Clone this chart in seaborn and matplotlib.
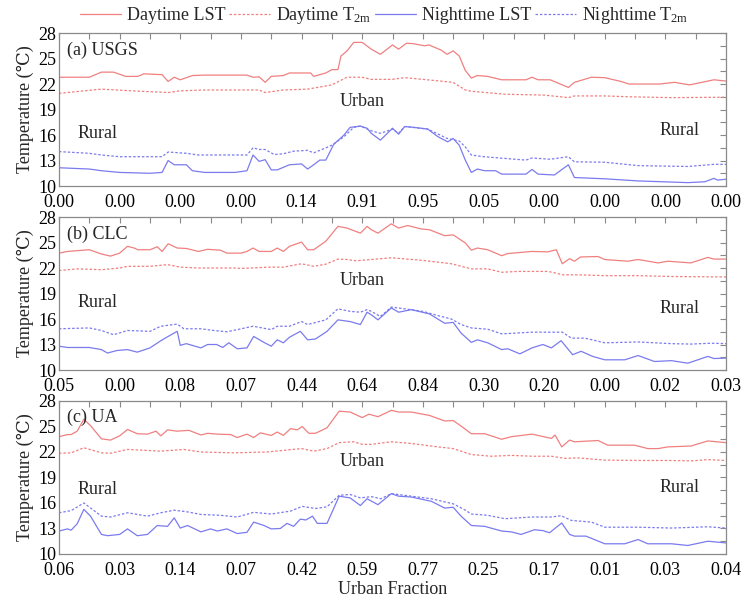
import matplotlib
matplotlib.use("Agg")
import matplotlib.pyplot as plt
import seaborn as sns
from matplotlib.lines import Line2D

sns.set_theme(style="white")
plt.rcParams['font.family'] = ['Liberation Serif', 'DejaVu Serif']
plt.rcParams['mathtext.fontset'] = 'custom'
plt.rcParams['mathtext.rm'] = 'Liberation Serif'
plt.rcParams['mathtext.it'] = 'Liberation Serif'

# ---------------- data ----------------
panel_names = ["(a) USGS", "(b) CLC", "(c) UA"]
tick_pos = [0, 10, 20, 30, 40, 50, 60, 70, 80, 90, 100, 110]
a_ticks = ["0.00", "0.00", "0.00", "0.00", "0.14", "0.91", "0.95", "0.05", "0.00", "0.00", "0.00", "0.00"]
b_ticks = ["0.05", "0.00", "0.08", "0.07", "0.44", "0.64", "0.84", "0.30", "0.20", "0.00", "0.02", "0.03"]
c_ticks = ["0.06", "0.03", "0.14", "0.07", "0.42", "0.59", "0.77", "0.25", "0.17", "0.01", "0.03", "0.04"]

# Panel (a) USGS
a_dlst_x = [0, 5, 7, 9, 11, 13, 14, 17, 18, 19, 20, 22, 24, 31, 32, 33, 34, 35, 37, 38, 40, 41.5, 42, 44, 45, 46, 46.5, 47.5, 48.6, 50,
            51.5, 53, 55, 56, 57.3, 58.4, 60.3, 61, 63, 64, 65, 66, 67, 68, 69, 70.7, 73, 77, 78, 79, 81, 84, 85, 87.8, 90, 92.7, 94, 99, 101.5, 104, 108, 110]
a_dlst_y = [22.8, 22.8, 23.4, 23.4, 22.9, 22.9, 23.2, 23.1, 22.3, 22.8, 22.5, 23.0, 23.05, 23.05, 22.8, 22.85, 22.2, 22.9, 23.0, 23.3, 23.3, 23.3, 22.9, 23.3, 23.7, 23.7, 25.3, 25.9, 26.9, 26.9,
            26.1, 25.5, 26.6, 26.1, 26.8, 26.75, 26.5, 26.6, 26.0, 25.5, 25.9, 25.3, 23.6, 22.7, 23.0, 22.9, 22.5, 22.5, 22.8, 22.5, 22.5, 21.6, 22.2, 22.8, 22.75, 22.3, 22.0, 22.0, 22.2, 21.9, 22.5, 22.35]
a_dt2_x = [0, 7, 12, 18, 20, 24, 33, 34, 37, 41, 45, 47.5, 50, 51.5, 55, 57, 60, 65, 67, 68, 73.5, 80, 84, 85, 90, 94, 101, 110]
a_dt2_y = [20.9, 21.4, 21.2, 21.0, 21.2, 21.3, 21.3, 21.0, 21.3, 21.4, 21.9, 22.8, 22.8, 22.55, 22.55, 22.75, 22.55, 22.2, 21.3, 21.15, 20.8, 20.7, 20.4, 20.6, 20.6, 20.5, 20.4, 20.45]
a_nlst_x = [0, 5, 7, 10, 15, 17, 18, 19, 21, 22, 24, 29, 31, 32, 33, 34, 35, 36, 38, 40, 41, 42, 43, 44, 45.3, 47, 48, 49.7, 50.8,
            51.5, 53, 55, 56, 57, 58.6, 60.8, 62.5, 64.1, 65, 66, 67, 68, 69, 70.2, 72, 73, 77, 78, 79, 81.7, 84, 85, 90, 95.5, 103.7, 106.5, 108, 108.6, 110]
a_nlst_y = [12.15, 12.0, 11.8, 11.6, 11.5, 11.6, 13.0, 12.5, 12.5, 11.8, 11.6, 11.6, 11.8, 13.65, 12.9, 13.1, 11.9, 11.9, 12.5, 12.6, 12.0, 12.5, 13.05, 13.05, 14.9, 16.0, 16.9, 17.05, 16.8,
            16.2, 15.4, 16.8, 16.1, 17.0, 16.9, 16.7, 15.8, 15.2, 15.6, 14.8, 13.05, 11.6, 12.0, 11.8, 11.8, 11.4, 11.4, 11.95, 11.4, 11.3, 12.5, 11.0, 10.85, 10.6, 10.4, 10.5, 10.9, 10.7, 10.8]
a_nt2_x = [0, 5, 7, 10, 17, 18, 20, 21, 23, 31, 32, 33, 34, 35.5, 37, 38.7, 41, 42, 43.7, 45, 47, 48.6, 49.7,
           51.5, 53, 55, 56, 57, 60.8, 64, 66, 67, 68, 70, 73.5, 77, 78, 81, 84, 85, 90, 95.5, 103.7, 108, 110]
a_nt2_y = [14.05, 13.85, 13.65, 13.45, 13.45, 14.0, 13.9, 13.85, 13.65, 13.65, 14.5, 14.3, 14.3, 13.7, 13.8, 14.1, 14.2, 13.9, 14.4, 14.8, 15.8, 16.9, 17.05,
           16.5, 16.2, 16.7, 16.2, 17.0, 16.7, 15.6, 15.3, 14.6, 13.65, 13.45, 13.25, 13.05, 13.3, 13.15, 13.45, 12.85, 12.8, 12.4, 12.3, 12.55, 12.55]

# Panel (b) CLC
b_dlst_x = [0, 1.4, 5, 7, 8.5, 10, 11.3, 12.4, 13, 15, 16.2, 17, 18, 19.5, 21, 23, 24.5, 26.6, 27.7, 30, 31, 32, 33, 35, 36, 37, 38, 40, 41, 42, 44, 46, 47.5, 49.7, 50.8,
            51.5, 52.6, 54.8, 56, 57.5, 59.7, 61.1, 63.6, 65, 67, 68, 69, 70.7, 73, 74, 78, 80.6, 82, 83, 84.2, 85, 86, 88.9, 90, 93.8, 95.5, 98.8, 100.4, 104.2, 107, 108, 110]
b_dlst_y = [23.75, 23.95, 24.15, 23.65, 23.4, 23.75, 24.55, 24.35, 24.15, 24.15, 24.5, 23.95, 24.85, 24.35, 24.3, 23.95, 24.2, 24.1, 23.75, 23.75, 23.95, 24.35, 23.95, 23.95, 24.35, 23.95, 24.55, 25.05, 24.15, 24.15, 25.15, 26.9, 26.7, 26.1, 26.9,
            26.5, 26.1, 27.2, 26.7, 27.0, 26.6, 26.5, 25.8, 25.9, 24.95, 24.1, 24.35, 24.15, 23.45, 23.7, 23.95, 23.9, 24.15, 22.5, 23.1, 22.8, 23.3, 23.35, 23.0, 22.8, 23.0, 22.6, 22.8, 22.6, 23.25, 23.05, 23.05]
b_dt2_x = [0, 3, 7, 10, 11.3, 15, 17.9, 20, 23, 28.8, 30, 34.5, 37, 40, 42, 44, 46, 47.5, 49, 51.5,
           54.8, 60, 64.7, 68, 70.7, 73, 75.7, 80.6, 82, 83, 85.6, 90, 95.5, 101, 110]
b_dt2_y = [21.7, 21.9, 21.8, 22.0, 22.2, 22.2, 22.4, 22.1, 22.0, 22.0, 21.95, 22.1, 22.1, 22.5, 22.2, 22.45, 23.05, 23.0, 22.85, 23.0,
           23.2, 22.9, 22.5, 21.9, 21.9, 21.5, 21.6, 21.6, 21.4, 21.2, 21.2, 21.1, 21.1, 21.0, 20.95]
b_nlst_x = [0, 1.4, 5, 7, 8, 9.6, 11.3, 12.9, 15, 16.8, 18, 19.5, 20, 21, 23.4, 24.5, 26, 27, 28, 29.4, 31, 32.1, 33.8, 35, 36, 37, 38, 39.8, 41, 42.3, 44.2, 46, 48, 49.7, 50.8,
            51.5, 52.6, 54.8, 56, 58.1, 61.1, 63.6, 65, 66.3, 68, 69, 70.7, 73, 74, 76, 78, 79.8, 81.2, 82.8, 84.7, 86.1, 88, 90, 93.3, 95.5, 98.2, 101, 103.7, 107, 108, 110]
b_nlst_y = [12.8, 12.65, 12.65, 12.4, 12.0, 12.3, 12.4, 12.1, 12.6, 13.45, 13.95, 14.55, 12.9, 13.1, 12.6, 13.0, 13.0, 12.65, 13.2, 12.5, 12.6, 13.95, 13.25, 12.8, 13.55, 13.2, 13.85, 14.55, 13.55, 13.65, 14.55, 15.9, 15.7, 15.35, 16.8,
            16.5, 15.9, 17.3, 16.8, 17.1, 16.6, 15.5, 15.6, 14.35, 13.25, 13.55, 13.2, 12.4, 12.5, 11.9, 12.6, 13.0, 12.6, 13.45, 11.8, 12.2, 11.6, 11.2, 11.2, 11.7, 11.0, 11.1, 10.8, 11.6, 11.35, 11.4]
b_nt2_x = [0, 5, 7, 9, 11.3, 15, 16.8, 19.5, 20.6, 23.4, 25.5, 27.7, 29.4, 32, 35, 36, 38, 40, 41, 44, 46, 48, 49.7, 50.8,
           51.5, 53, 54.8, 57, 60, 62.5, 64.7, 66.3, 68, 70.7, 73, 78, 83, 84.5, 86.7, 90, 95.5, 101, 104.2, 107.5, 110]
b_nt2_y = [14.85, 14.95, 14.65, 14.15, 14.65, 14.55, 15.15, 15.4, 14.85, 14.85, 14.65, 14.5, 14.75, 15.15, 14.75, 15.15, 15.15, 15.7, 15.35, 15.9, 17.2, 16.9, 16.8, 17.1,
           16.9, 16.3, 17.4, 17.2, 16.9, 16.4, 16.0, 15.35, 14.95, 14.8, 14.25, 14.45, 14.45, 13.75, 13.75, 13.2, 13.3, 13.1, 13.05, 13.15, 13.1]

# Panel (c) UA
c_dlst_x = [0, 1.4, 2, 3, 4.1, 5.2, 7, 8.5, 10, 11.3, 12.9, 14.6, 16, 16.8, 17.9, 19.5, 21.4, 23.4, 24.5, 26.1, 28.3, 29.4, 31, 32.1, 33.2, 35, 36, 37, 38.2, 39.3, 40.1, 41.2, 42.3, 44.2, 46.2, 48, 50, 51.1,
            52.6, 54.8, 56, 58.1, 61.1, 63.6, 65, 66.3, 68, 70.2, 73, 74.6, 78, 81.2, 81.8, 82.9, 84.2, 85, 88.9, 90.5, 94.9, 97.1, 98.8, 100.4, 104.2, 107, 110]
c_dlst_y = [23.8, 24.05, 24.05, 24.45, 25.85, 25.1, 23.55, 23.4, 23.9, 24.65, 24.15, 24.1, 24.45, 23.9, 24.6, 24.45, 24.55, 24.0, 24.2, 24.1, 24.05, 23.7, 24.1, 23.7, 24.25, 23.95, 24.35, 23.95, 24.75, 24.6, 25.0, 24.2, 24.2, 24.85, 26.8, 26.7, 26.05, 26.45,
            26.15, 26.9, 26.7, 26.7, 26.3, 25.65, 25.7, 25.05, 24.15, 24.15, 23.5, 23.8, 24.1, 23.6, 24.0, 22.6, 23.4, 23.2, 23.35, 22.8, 22.8, 22.4, 22.4, 22.6, 22.7, 23.3, 23.1]
c_dt2_x = [0, 2, 4.1, 7, 8.5, 11.3, 16.8, 20.6, 23.4, 28.8, 34.3, 40, 42, 44.2, 46.2, 48.6, 50, 51.5,
           54.8, 58.1, 62.5, 65, 68, 71.3, 74.6, 78, 81.2, 83.4, 85.6, 90, 95.5, 101, 104.2, 107, 110]
c_dt2_y = [21.85, 21.9, 22.5, 21.9, 21.85, 22.3, 22.1, 22.3, 22.0, 21.9, 22.0, 22.4, 22.1, 22.4, 23.1, 23.2, 22.9, 22.9,
           23.2, 23.0, 22.6, 22.4, 21.7, 21.5, 21.6, 21.5, 21.5, 21.25, 21.3, 21.05, 21.0, 21.0, 20.95, 21.1, 21.0]
c_nlst_x = [0, 1.4, 2, 3, 4.1, 5.2, 7, 8, 10, 11.3, 12.9, 14.6, 16.2, 17.9, 19, 20, 21.2, 23.4, 25, 26.1, 27.7, 29.4, 31, 32.1, 33.8, 35, 36.5, 37.6, 38.7, 39.8, 40.7, 41.8, 42.6, 44.2, 46.2, 48, 49.7, 50.8,
            52.6, 54.8, 56, 58.1, 61.4, 63.6, 65, 66.3, 68, 70.2, 73, 74.6, 76.2, 78.4, 79.8, 80.9, 82.9, 84.2, 85, 86.9, 90, 93.3, 95.5, 97.1, 101, 103.7, 107, 110]
c_nlst_y = [12.7, 12.95, 12.8, 13.55, 15.25, 14.45, 12.3, 12.15, 12.3, 12.95, 12.15, 12.3, 13.35, 13.25, 14.25, 13.05, 13.35, 12.6, 12.95, 12.7, 12.95, 12.4, 12.55, 13.75, 13.35, 12.95, 13.0, 13.6, 13.25, 14.1, 14.0, 14.45, 13.6, 13.6, 16.8, 16.6, 15.7, 16.5,
            15.8, 17.1, 16.8, 16.7, 16.2, 15.4, 15.5, 14.45, 13.35, 13.25, 12.7, 12.6, 12.3, 12.85, 12.75, 12.5, 13.65, 12.3, 12.1, 12.1, 11.2, 11.2, 11.7, 11.2, 11.2, 11.0, 11.5, 11.3]
c_nt2_x = [0, 2, 4.1, 7, 8.5, 11.3, 14.6, 16.8, 19, 21.2, 23.4, 26.6, 29.4, 32.1, 35, 38.2, 40.1, 42.3, 44.2, 46.2, 48, 49.7, 51.5,
           53.1, 54.8, 57, 61.4, 65, 66.9, 68, 70.7, 73.5, 78, 81.2, 82.8, 84.5, 87.8, 90, 95.5, 101, 107, 110]
c_nt2_y = [14.85, 15.1, 16.0, 14.45, 14.35, 14.85, 14.45, 14.85, 15.15, 14.95, 14.65, 14.55, 14.35, 14.9, 14.7, 15.05, 15.6, 15.35, 15.55, 16.9, 17.0, 16.6, 16.75,
           16.5, 17.1, 16.9, 16.5, 15.9, 15.2, 14.7, 14.55, 14.15, 14.35, 14.35, 14.5, 13.95, 13.75, 13.15, 13.15, 13.05, 13.2, 13.05]

series_names = ["Daytime LST", r"Daytime T$_{\mathrm{2m}}$", "Nighttime LST", r"Nighttime T$_{\mathrm{2m}}$"]
colors = ["#F08080", "#F08080", "#7B7BEE", "#7B7BEE"]
styles = ["-", (0, (2.0, 1.5)), "-", (0, (2.0, 1.5))]

panels = [
    (a_ticks, [(a_dlst_x, a_dlst_y), (a_dt2_x, a_dt2_y), (a_nlst_x, a_nlst_y), (a_nt2_x, a_nt2_y)],
     {"rural_l": 16.2, "urban": 19.9, "rural_r": 16.5}),
    (b_ticks, [(b_dlst_x, b_dlst_y), (b_dt2_x, b_dt2_y), (b_nlst_x, b_nlst_y), (b_nt2_x, b_nt2_y)],
     {"rural_l": 17.9, "urban": 20.5, "rural_r": 17.2}),
    (c_ticks, [(c_dlst_x, c_dlst_y), (c_dt2_x, c_dt2_y), (c_nlst_x, c_nlst_y), (c_nt2_x, c_nt2_y)],
     {"rural_l": 17.55, "urban": 20.9, "rural_r": 17.8}),
]

# ---------------- figure ----------------
fig = plt.figure(figsize=(7.42, 6.03), dpi=100)
left, width = 0.0795, 0.899
bottoms = [0.6915, 0.3864, 0.0813]
height = 0.2537
spine_col = "#8a8a8a"
fs = 13

for i, (ticks, data, ann) in enumerate(panels):
    ax = fig.add_axes([left, bottoms[i], width, height])
    for (xs, ys), c, ls in zip(data, colors, styles):
        sns.lineplot(x=xs, y=ys, ax=ax, color=c, linestyle=ls, linewidth=0.9,
                     sort=False, estimator=None, legend=False)
    ax.set_xlim(0, 110)
    ax.set_ylim(10, 28)
    ax.set_yticks([10, 13, 16, 19, 22, 25, 28])
    ax.set_yticks([11.5, 14.5, 17.5, 20.5, 23.5, 26.5], minor=True)
    ax.set_xticks(tick_pos)
    ax.set_xticks([5, 15, 25, 35, 45, 55, 65, 75, 85, 95, 105], minor=True)
    ax.set_xticklabels(ticks)
    ax.tick_params(which="both", direction="in", top=True, right=True,
                   length=4, width=0.8, color=spine_col, labelsize=fs,
                   labelcolor="black")
    ax.tick_params(axis="x", which="both", pad=6)
    ax.tick_params(axis="y", which="both", pad=2)
    for sp in ax.spines.values():
        sp.set_color(spine_col)
        sp.set_linewidth(0.9)
    ax.set_ylabel("Temperature (℃)", fontsize=fs, labelpad=3)
    ax.text(0.0115, 0.89, panel_names[i], transform=ax.transAxes, fontsize=fs,
            ha="left", va="center")
    ax.text(6.4, ann["rural_l"], "Rural", fontsize=fs, ha="center", va="center")
    ax.text(50, ann["urban"], "Urban", fontsize=fs, ha="center", va="center")
    ax.text(102.3, ann["rural_r"], "Rural", fontsize=fs, ha="center", va="center")
    ax.grid(False)
    if i == 2:
        ax.set_xlabel("Urban Fraction", fontsize=fs, labelpad=1)

handles = [Line2D([0], [0], color=c, linestyle=ls, linewidth=0.9) for c, ls in zip(colors, styles)]
fig.legend(handles, series_names, loc="center", bbox_to_anchor=(0.5175, 0.974),
           ncol=4, frameon=False, fontsize=fs, handlelength=2.3, columnspacing=0.2,
           handletextpad=0.3, borderpad=0.0)

fig.savefig("out.png", dpi=100)
